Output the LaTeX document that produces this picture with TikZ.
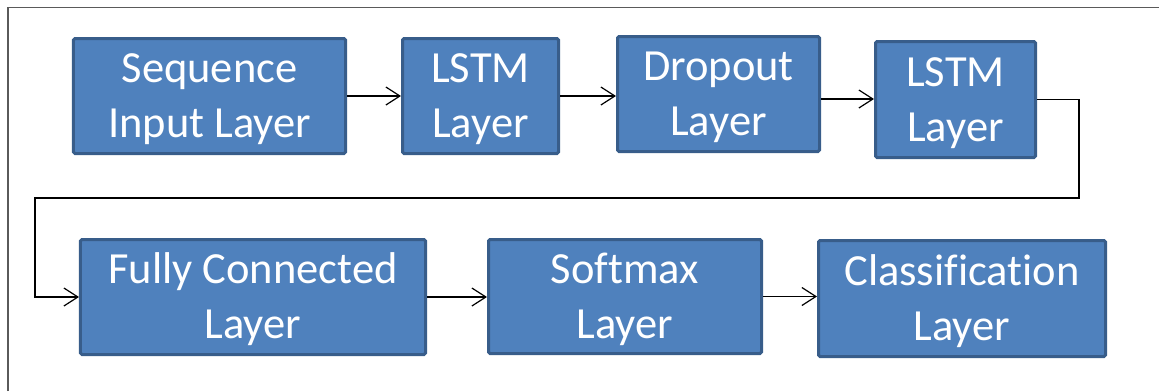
\documentclass[tikz,border=0pt]{standalone}
\usepackage{fontspec}
\setmainfont[Ligatures=NoCommon]{Carlito}
\usetikzlibrary{arrows.meta}
\definecolor{boxfill}{HTML}{4F81BD}
\definecolor{boxline}{HTML}{385D8A}
\definecolor{framegray}{HTML}{5A5A5A}
\newcommand\twolines[2]{\rule{0pt}{40bp}#1\\#2\rule[-12bp]{0pt}{0pt}}
\tikzset{
  layerbox/.style={draw=boxline, fill=boxfill, line width=3bp, rounded corners=1.5bp,
    text=white, align=center, inner sep=0pt,
    font=\fontsize{44.5bp}{55bp}\selectfont},
  link/.style={draw=black, line width=1.2bp, -{Straight Barb[length=14bp,width=18bp,line width=1.2bp]}}
}
\begin{document}
\begin{tikzpicture}[x=1bp,y=-1bp]
\useasboundingbox (0,0) rectangle (1159,391);
\draw[framegray, line width=1.5bp] (8,391) -- (8,7.5) -- (1159,7.5);
\node[layerbox, minimum width=272bp, minimum height=115bp] (b1) at (209.5,96) {\twolines{Sequence}{Input Layer}};
\node[layerbox, minimum width=156bp, minimum height=115bp] (b2) at (480.5,96) {\twolines{LSTM}{Layer}};
\node[layerbox, minimum width=202bp, minimum height=115bp] (b3) at (718.5,94) {\twolines{Dropout}{Layer}};
\node[layerbox, minimum width=160bp, minimum height=116bp] (b4) at (955.5,99.5) {\twolines{LSTM}{Layer}};
\node[layerbox, minimum width=345bp, minimum height=115bp] (b5) at (253,297) {\twolines{Fully Connected}{Layer}};
\node[layerbox, minimum width=273bp, minimum height=114bp] (b6) at (625,296.5) {\twolines{Softmax}{Layer}};
\node[layerbox, minimum width=287bp, minimum height=116bp] (b7) at (962,298.5) {\twolines{Classification}{Layer}};
\coordinate (c1) at (1079,198);
\coordinate (c2) at (35,198);
\draw[link] (b1.east) -- (b1.east -| b2.west);
\draw[link] (b2.east) -- (b2.east -| b3.west);
\draw[link] ([yshift=-5bp]b3.east) -- ([yshift=-5bp]b3.east -| b4.west);
\draw[link] (b4.east) -| (c1) -- (c2) |- (b5.west);
\draw[link] (b5.east) -- (b5.east -| b6.west);
\draw[link] (b6.east) -- (b6.east -| b7.west);
\end{tikzpicture}
\end{document}
